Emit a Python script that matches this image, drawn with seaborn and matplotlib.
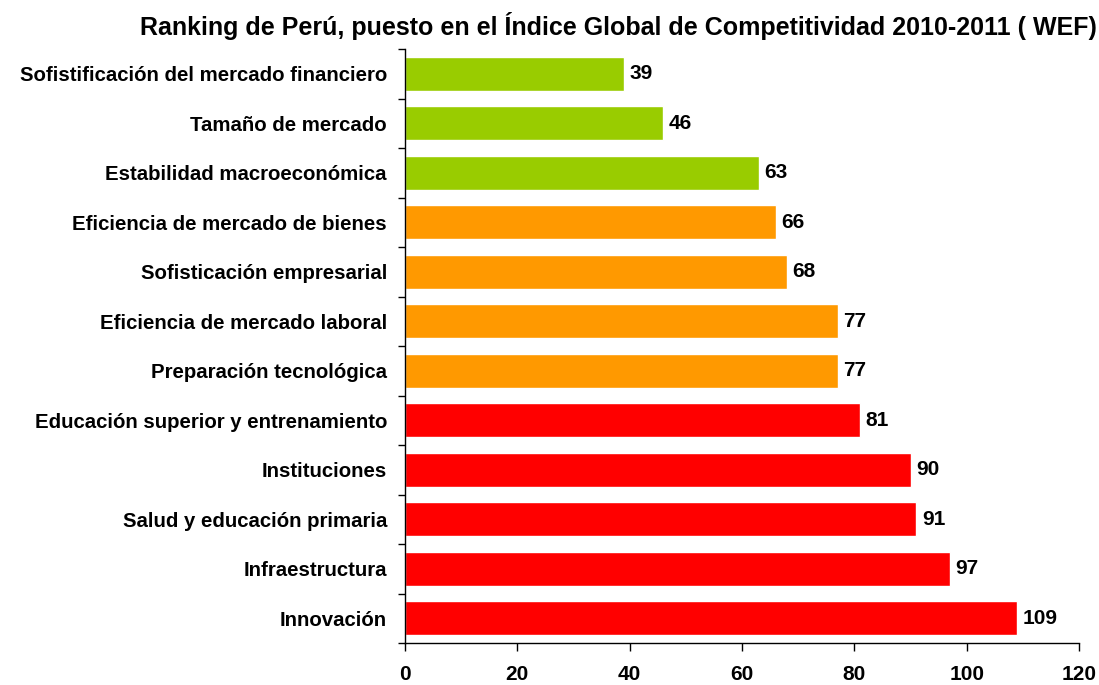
import matplotlib
matplotlib.use("Agg")
import matplotlib.pyplot as plt
import seaborn as sns
import pandas as pd
import numpy as np

categories = [
    "Sofistificación del mercado financiero",
    "Tamaño de mercado",
    "Estabilidad macroeconómica",
    "Eficiencia de mercado de bienes",
    "Sofisticación empresarial",
    "Eficiencia de mercado laboral",
    "Preparación tecnológica",
    "Educación superior y entrenamiento",
    "Instituciones",
    "Salud y educación primaria",
    "Infraestructura",
    "Innovación",
]
values = [39, 46, 63, 66, 68, 77, 77, 81, 90, 91, 97, 109]
groups = ["g", "g", "g", "o", "o", "o", "o", "r", "r", "r", "r", "r"]
palette = {"g": "#99CC00", "o": "#FF9900", "r": "#FF0000"}
xticks = [0, 20, 40, 60, 80, 100, 120]

sns.set_style("white", {"xtick.bottom": True, "ytick.left": True,
                        "text.color": "black", "xtick.color": "black",
                        "ytick.color": "black", "axes.labelcolor": "black"})
plt.rcParams["font.family"] = ["Liberation Sans", "DejaVu Sans"]

df = pd.DataFrame({"cat": categories, "val": values, "grp": groups})

fig = plt.figure(figsize=(10.99, 6.85), dpi=100)
top = 1 - 49 / 685
bottom = 1 - 643 / 685
ax = fig.add_axes([0.3685, bottom, 0.982 - 0.3685, top - bottom])
sns.barplot(data=df, x="val", y="cat", hue="grp", palette=palette, dodge=False,
            width=0.69, legend=False, ax=ax, saturation=1)

ax.set_xlim(0, 120)
ax.set_ylim(len(categories) - 0.5, -0.5)
ax.set_xticks(xticks)
ax.set_xticklabels([str(t) for t in xticks], fontsize=15, fontweight="bold", color="black")
ax.set_yticks(range(len(categories)))
ax.set_yticklabels(categories, fontsize=14.7, fontweight="bold", color="black")
ax.set_yticks(np.arange(-0.5, len(categories) + 0.5, 1), minor=True)
ax.tick_params(axis="y", which="major", length=0, pad=13)
ax.tick_params(axis="y", which="minor", length=5, width=1, color="black", direction="out", left=True)
ax.tick_params(axis="x", which="major", length=6, width=1, color="black", direction="out", pad=10, bottom=True)
ax.set_xlabel("")
ax.set_ylabel("")
for s in ["top", "right"]:
    ax.spines[s].set_visible(False)
for s in ["left", "bottom"]:
    ax.spines[s].set_color("black")
    ax.spines[s].set_linewidth(1)

for i, v in enumerate(values):
    ax.text(v + 1.0, i, str(v), va="center", ha="left", fontsize=15,
            fontweight="bold", color="black")

fig.text(0.998, 1 - 35 / 685, "Ranking de Perú, puesto en el Índice Global de Competitividad 2010-2011 ( WEF)",
         ha="right", va="baseline", fontsize=18, fontweight="bold", color="black")

fig.savefig("out.png", dpi=100)
